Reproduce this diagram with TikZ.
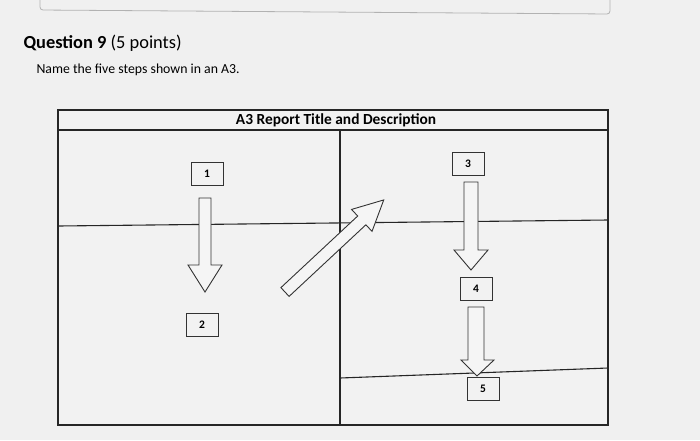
\documentclass[tikz,border=0pt]{standalone}
\usepackage{fontspec}
\setmainfont{Carlito}
\begin{document}
\begin{tikzpicture}[x=1pt,y=-1pt,
  ln/.style={draw=black!85,line width=1.1pt},
  bx/.style={draw=black!80,line width=0.8pt,fill=white!90!gray,minimum width=32pt,minimum height=23pt,font=\fontsize{11.5}{13}\selectfont\bfseries,inner sep=0pt},
  barrow/.style={draw=black!80,line width=0.9pt,fill=white!92!gray,line join=miter}]
\fill[gray!12] (0,0) rectangle (700,440);
\useasboundingbox (0,0) rectangle (700,440);
\draw[gray!60,line width=0.8pt,rounded corners=3pt] (40,-5) -- (40,10) -- (610,14) -- (610,-5);
\node[anchor=west,font=\fontsize{18.4}{20}\selectfont] (q) at (20,43) {\textbf{Question 9} (5 points)};
\node[anchor=west,font=\fontsize{13.8}{16}\selectfont] (n) at (33,70) {Name the five steps shown in an A3.};
% table
\draw[ln,fill=white!90!gray] (58,110) rectangle (608,425);
\draw[ln] (58,130) -- (608,130);
\node[font=\fontsize{15.4}{17}\selectfont\bfseries] (t) at (336,120.5) {A3 Report Title and Description};
\draw[ln] (58,226) -- (608,220);
\draw[ln] (340,130) -- (340,425);
\draw[ln] (340,378) -- (608,368);
% boxes
\node[bx] (b1) at (207,174) {1};
\node[bx] (b2) at (202,325) {2};
\node[bx] (b3) at (468,164) {3};
\node[bx] (b4) at (476,289) {4};
\node[bx] (b5) at (483,389) {5};
% block arrows
\draw[barrow] (199,198) -- (211,198) -- (211,265) -- (222,265) -- (205,292) -- (188,265) -- (199,265) -- cycle;
\draw[barrow] (464,182) -- (478,182) -- (478,250) -- (488,250) -- (471,270) -- (454,250) -- (464,250) -- cycle;
\draw[barrow] (468,307) -- (484,307) -- (484,360) -- (494,360) -- (477,376) -- (461,360) -- (468,360) -- cycle;
\begin{scope}[shift={(285,292)},rotate=43]
\draw[barrow] (0,-6) -- (105,-6) -- (105,-15) -- (135,0) -- (105,15) -- (105,6) -- (0,6) -- cycle;
\end{scope}
\end{tikzpicture}
\end{document}
